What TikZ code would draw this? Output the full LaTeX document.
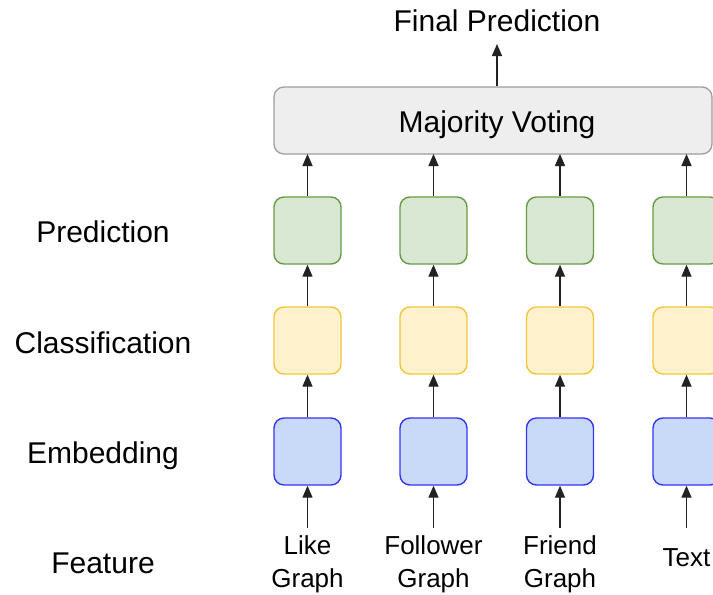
\documentclass[tikz,border=0pt]{standalone}
\usepackage{fontspec}
\setmainfont{Liberation Sans}
\usetikzlibrary{arrows.meta}
\definecolor{gfill}{HTML}{D9E8D3}
\definecolor{gline}{HTML}{6A9A48}
\definecolor{yfill}{HTML}{FFF2CC}
\definecolor{yline}{HTML}{F2C53D}
\definecolor{bfill}{HTML}{C9DAF8}
\definecolor{bline}{HTML}{3535F5}
\definecolor{mfill}{HTML}{EEEEEE}
\definecolor{mline}{HTML}{9E9E9E}
\definecolor{arr}{HTML}{222222}
\tikzset{
  blk/.style={rounded corners=10pt, line width=1.4pt, minimum width=67pt, minimum height=67pt, inner sep=0pt, anchor=center},
  gbox/.style={blk, draw=gline, fill=gfill},
  ybox/.style={blk, draw=yline, fill=yfill},
  bbox/.style={blk, draw=bline, fill=bfill},
  big/.style={font=\fontsize{30}{36}\selectfont, inner sep=0pt, anchor=base},
  small/.style={font=\fontsize{26}{33}\selectfont, inner sep=0pt, anchor=base},
  conn/.style={draw=arr, line width=1.4pt, -{Triangle[length=12pt,width=10pt]}}
}
\begin{document}
\begin{tikzpicture}[x=1pt,y=-1pt]
\useasboundingbox[fill=white] (0,0) rectangle (713,595);
% majority voting
\node[rounded corners=10pt, line width=1.3pt, draw=mline, fill=mfill, minimum width=438pt, minimum height=67pt, inner sep=0pt] (mv) at (493,120.5) {};
\node[big] (mvt) at (497,132) {Majority Voting};
\node[big] (fp) at (497,31) {Final Prediction};
\coordinate (fpin) at (497,44);
\draw[conn] (mv.north -| fpin) -- (fpin);
% left labels
\node[big] (lp) at (103,242) {Prediction};
\node[big] (lc) at (103,353) {Classification};
\node[big] (le) at (103,463) {Embedding};
\node[big] (lf) at (103,573) {Feature};
% columns
\foreach \i/\x in {1/307.5,2/433.5,3/560,4/686.5}{
  \node[gbox] (g\i) at (\x,230.5) {};
  \node[ybox] (y\i) at (\x,340.5) {};
  \node[bbox] (b\i) at (\x,451.5) {};
  \coordinate (f\i) at (\x,528);
  \coordinate (m\i) at (\x,154);
  \draw[conn] (f\i) -- (b\i.south);
  \draw[conn] (b\i.north) -- (y\i.south);
  \draw[conn] (y\i.north) -- (g\i.south);
  \draw[conn] (g\i.north) -- (m\i);
}
% feature labels
\node[small] (t1a) at (307.5,554) {Like};
\node[small] (t1b) at (307.5,587) {Graph};
\node[small] (t2a) at (433.5,554) {Follower};
\node[small] (t2b) at (433.5,587) {Graph};
\node[small] (t3a) at (560,554) {Friend};
\node[small] (t3b) at (560,587) {Graph};
\node[small] (t4) at (686.5,566) {Text};
\end{tikzpicture}
\end{document}
